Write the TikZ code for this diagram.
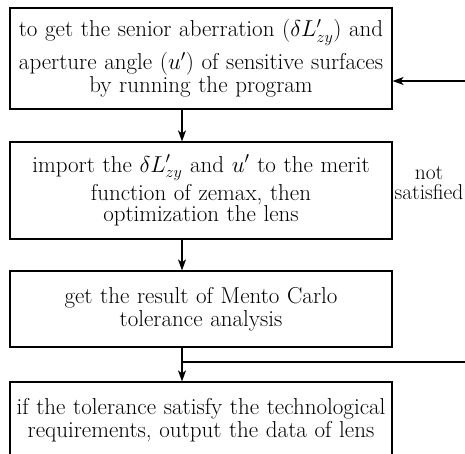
\RequirePackage{fix-cm}
\documentclass[tikz,border=0pt]{standalone}
\usetikzlibrary{arrows.meta}

\begin{document}
\begin{tikzpicture}[x=1pt, y=-1pt,
    stepbox/.style={draw, line width=1.2pt, minimum width=382pt, text width=380pt,
        align=center, inner sep=0pt, font=\fontsize{23}{19}\selectfont},
    flow/.style={line width=1.2pt, -{Stealth[length=11pt, width=8pt, inset=3pt]}}]
    % Page size of the figure (parts on the right and bottom are cut off)
    \useasboundingbox (0,0) rectangle (465,454);

    % Process boxes, top to bottom
    \node[stepbox, minimum height=101pt] (getab) at (201,58.5)
        {to get the senior aberration ($\delta L'_{zy}$) and\\[6pt]
         aperture angle ($u'$) of sensitive surfaces\\
         by running the program};
    \node[stepbox, minimum height=97pt] (merit) at (201,190.5)
        {import the $\delta L'_{zy}$ and $u'$ to the merit\\[2pt]
         function of zemax, then\\
         optimization the lens};
    \node[stepbox, minimum height=76pt] (mcarlo) at (201,309)
        {get the result of Mento Carlo\hspace*{16pt}\\[1pt]
         tolerance analysis\hspace*{16pt}};
    \node[stepbox, minimum height=76pt] (output) at (201,420)
        {if the tolerance satisfy the technological\\[1pt]
         requirements, output the data of lens};

    % Lane of the down arrows and the feedback loop
    \coordinate (lane) at (182,0);
    \coordinate (split) at (182,362);
    \coordinate (fbbot) at (472,362);
    \coordinate (fbtop) at (472,81);

    % Down arrows
    \draw[flow] (getab.south -| lane) -- (merit.north -| lane);
    \draw[flow] (merit.south -| lane) -- (mcarlo.north -| lane);
    \draw[flow] (mcarlo.south -| lane) -- (output.north -| lane);

    % Feedback when the tolerance is not satisfied
    \draw[flow] (split) -- (fbbot) -- (fbtop) -- (getab.east |- fbtop);
    \node[align=center, inner sep=0pt, font=\fontsize{21.5}{20.5}\selectfont] (notsat) at (429,183)
        {not\\satisfied};
\end{tikzpicture}
\end{document}
